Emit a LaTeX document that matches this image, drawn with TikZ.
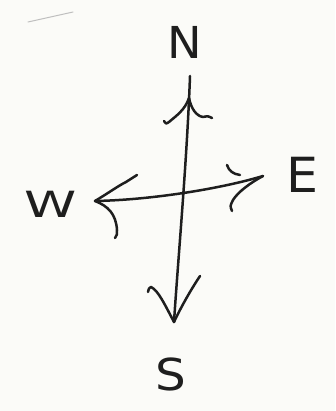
\documentclass[tikz,border=0pt]{standalone}
\usepackage{fontspec}
\setmainfont{DejaVu Sans}
\begin{document}
\begin{tikzpicture}[x=1pt,y=-1pt]
\definecolor{ink}{HTML}{1E1E1E}
\definecolor{paper}{HTML}{FBFBF8}
\tikzset{
  pen/.style={line width=2.5pt, draw=ink, line cap=round, line join=round},
  letter/.style={font=\fontsize{44}{44}\selectfont, text=ink, inner sep=0pt}
}
\fill[paper] (0,0) rectangle (335,411);
\useasboundingbox (0,0) rectangle (335,411);
% faint stray mark
\draw[line width=1pt, draw=black!25, line cap=round] (28,22) -- (73,12);
% letters
\node[letter, xscale=1.05] (N) at (185,42) {N};
\node[letter, xscale=1.15, yscale=1.1] (E) at (302,175) {E};
\node[letter, xscale=1.2, yscale=0.82] (W) at (51,204) {W};
\node[letter, xscale=1.1] (S) at (171,374) {S};
% arrow tips
\coordinate (ntip) at (190,76);
\coordinate (stip) at (174,322);
\coordinate (wtip) at (95,201);
\coordinate (etip) at (263,176);
\coordinate (nj) at (189,98);
% main axes
\draw[pen] (ntip) .. controls (187,160) and (178,260) .. (stip);
\draw[pen] (wtip) .. controls (150,200) and (220,189) .. (etip);
% north head
\draw[pen] (nj) .. controls (185,110) and (176,116) .. (169,122) .. controls (166,124) .. (164,121);
\draw[pen] (nj) .. controls (191,108) and (196,116) .. (203,117) .. controls (208,116) .. (212,118);
% south head
\draw[pen] (stip) .. controls (165,305) and (158,290) .. (151,287) .. controls (149,288) .. (148,292);
\draw[pen] (stip) .. controls (182,305) and (192,288) .. (200,276);
% west head
\draw[pen] (wtip) .. controls (110,192) and (118,186) .. (126,182) .. controls (132,179) .. (137,175);
\draw[pen] (wtip) .. controls (108,206) and (116,214) .. (117,230) .. controls (117,235) .. (115,238);
% east head
\draw[pen] (227,165) .. controls (229,171) and (233,174) .. (240,175);
\draw[pen] (etip) .. controls (250,183) and (238,192) .. (233,200) .. controls (230,206) .. (232,211);
\end{tikzpicture}
\end{document}
